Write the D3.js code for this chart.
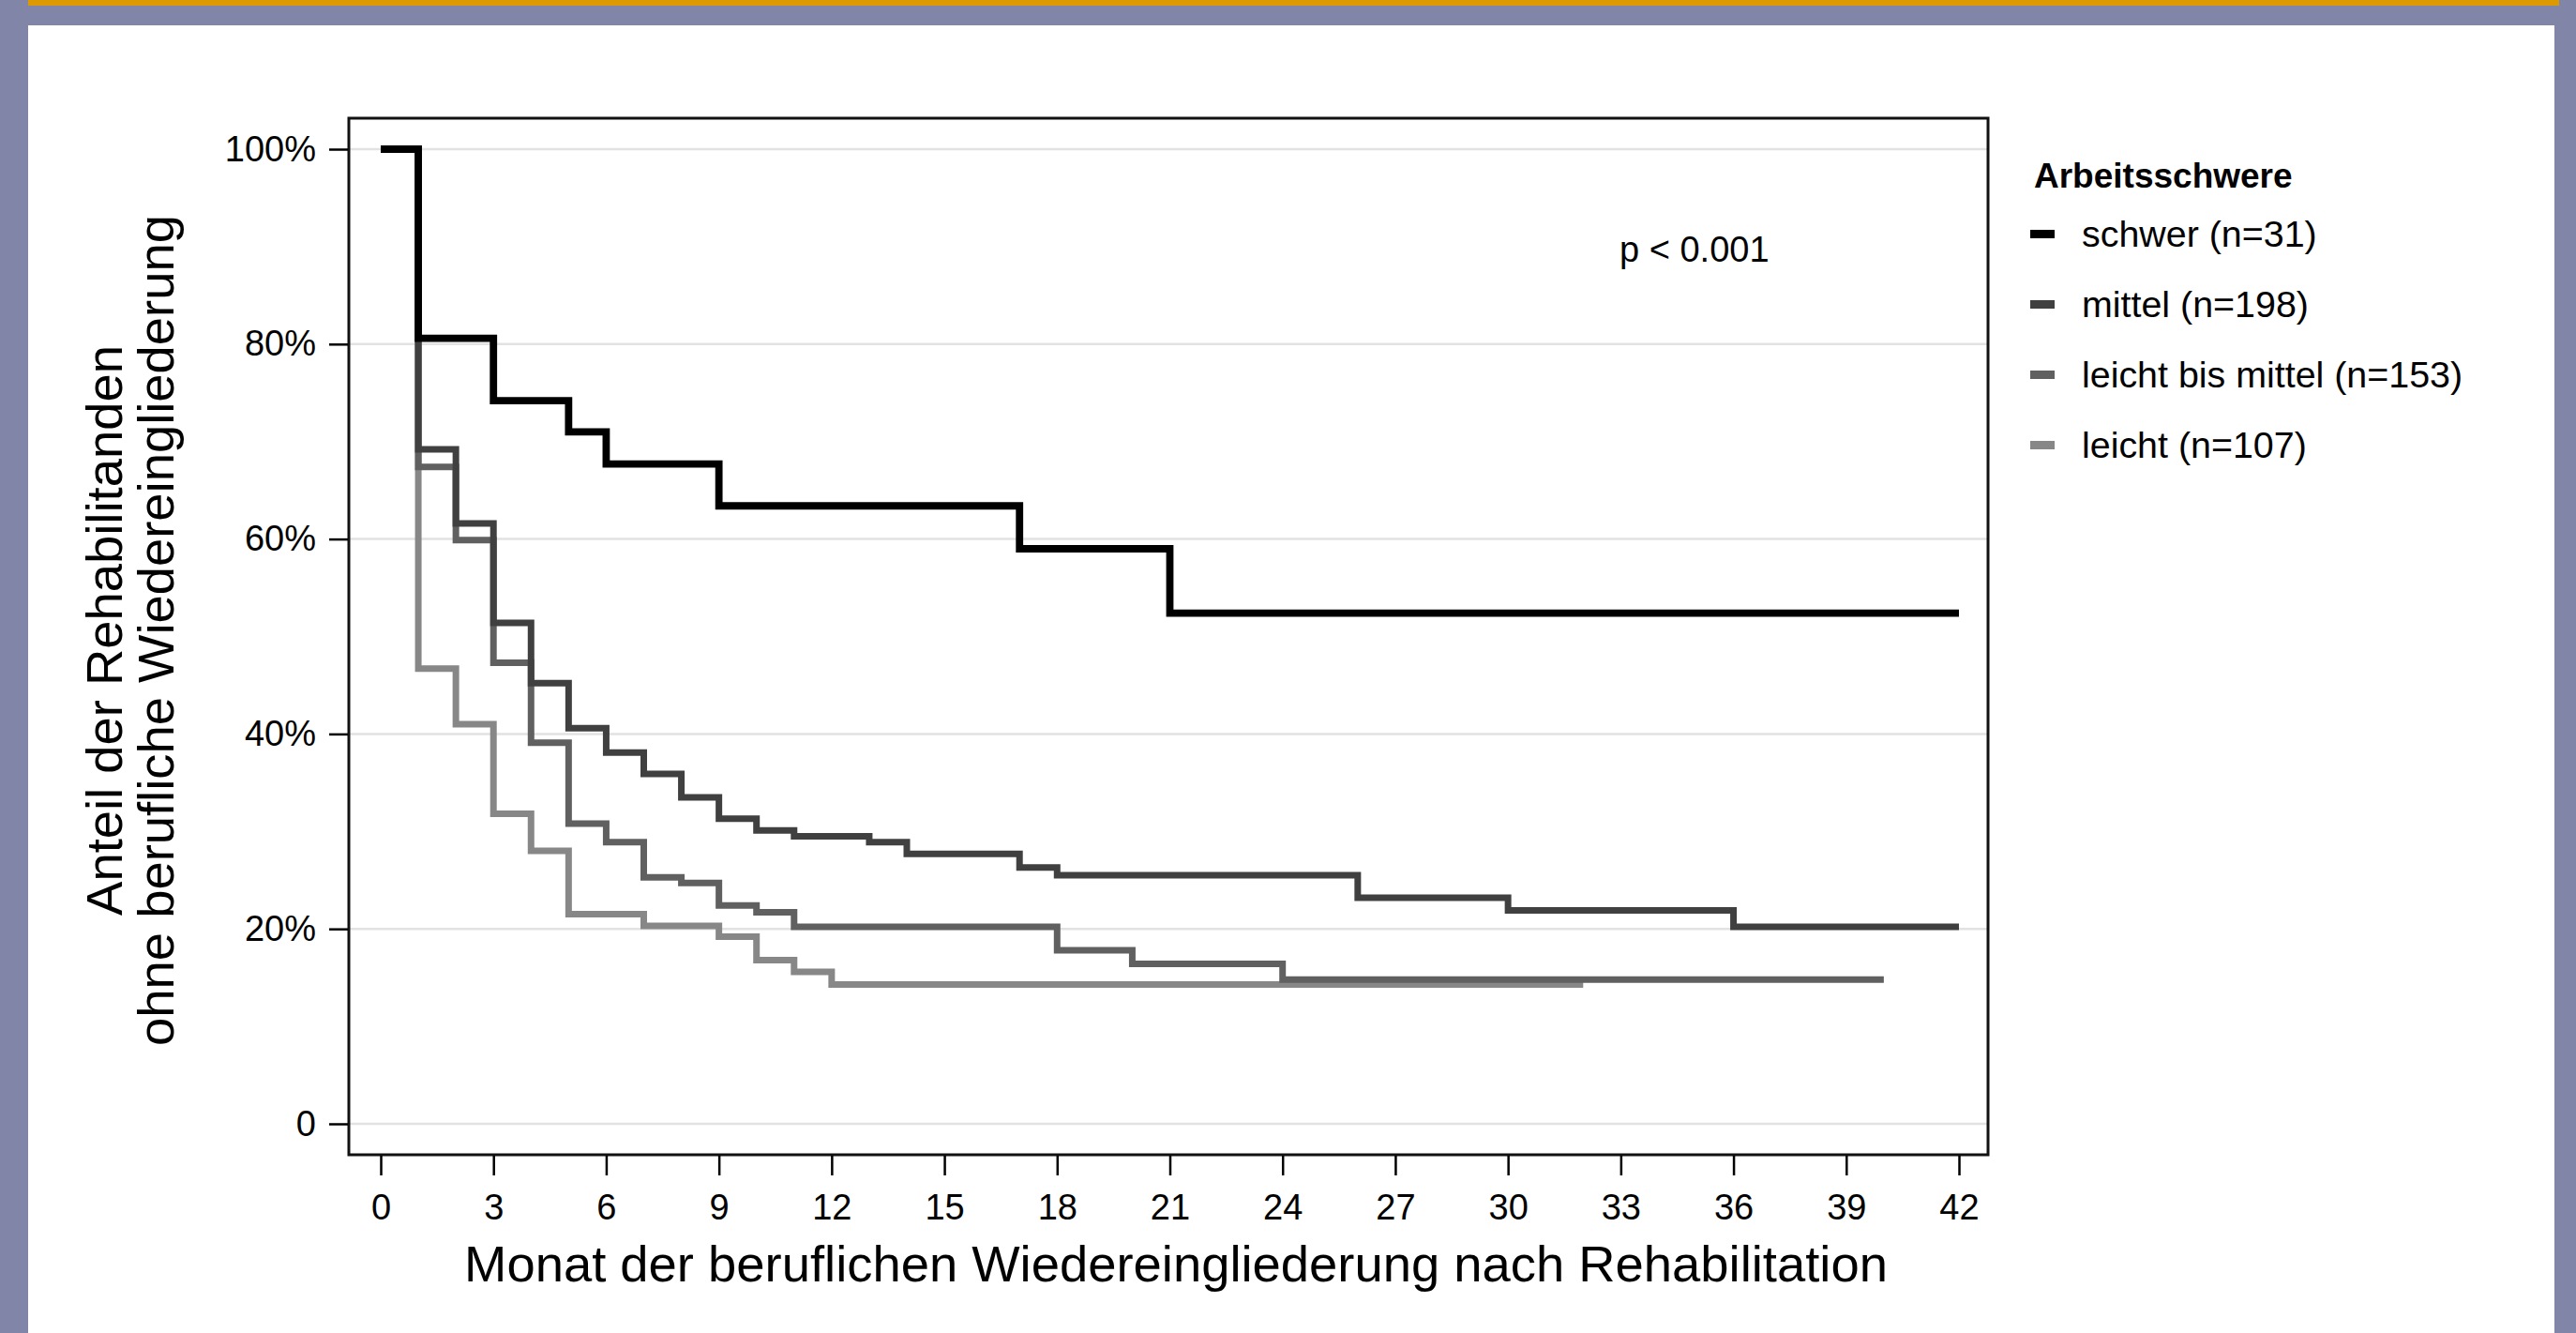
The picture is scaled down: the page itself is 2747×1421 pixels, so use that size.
<!DOCTYPE html>
<html>
<head>
<meta charset="utf-8">
<script src="https://cdn.jsdelivr.net/npm/d3@7"></script>
<style>
  html, body { margin: 0; padding: 0; background: #8186a8; }
  svg { display: block; }
  text { font-family: "Liberation Sans", Arial, Helvetica, sans-serif; fill: #000; }
</style>
</head>
<body>
<svg id="chart" width="2747" height="1421"></svg>
<script>
// ---- Data ----
const groupNames = ["schwer (n=31)", "mittel (n=198)", "leicht bis mittel (n=153)", "leicht (n=107)"];
const groupColors = ["#000000", "#404040", "#606060", "#878787"];

const schwerMonths = [0, 1, 3, 5, 6, 9, 17, 21, 42];
const schwerValues = [100, 80.6, 74.2, 71.0, 67.7, 63.4, 59.0, 52.4, 52.4];

const mittelMonths = [0, 1, 2, 3, 4, 5, 6, 7, 8, 9, 10, 11, 13, 14, 17, 18, 26, 30, 36, 42];
const mittelValues = [100, 69.2, 61.6, 51.4, 45.2, 40.6, 38.1, 35.9, 33.5, 31.3, 30.1, 29.5, 28.9, 27.7, 26.3, 25.5, 23.2, 21.9, 20.2, 20.2];

const leichtMittelMonths = [0, 1, 2, 3, 4, 5, 6, 7, 8, 9, 10, 11, 18, 20, 24, 40];
const leichtMittelValues = [100, 67.4, 59.9, 47.3, 39.1, 30.8, 28.9, 25.3, 24.7, 22.4, 21.7, 20.2, 17.8, 16.4, 14.8, 14.8];

const leichtMonths = [0, 1, 2, 3, 4, 5, 7, 9, 10, 11, 12, 32];
const leichtValues = [100, 46.7, 41.0, 31.8, 28.0, 21.5, 20.3, 19.2, 16.8, 15.6, 14.3, 14.3];

const xTicks = [0, 3, 6, 9, 12, 15, 18, 21, 24, 27, 30, 33, 36, 39, 42];
const yTicks = [0, 20, 40, 60, 80, 100];
const yTickLabels = ["0", "20%", "40%", "60%", "80%", "100%"];

const legendTitle = "Arbeitsschwere";
const pValueText = "p < 0.001";
const xTitle = "Monat der beruflichen Wiedereingliederung nach Rehabilitation";
const yTitleLines = ["Anteil der Rehabilitanden", "ohne berufliche Wiedereingliederung"];

// ---- Layout ----
const svg = d3.select("#chart");
const W = 2747, H = 1421;
const box = { left: 372, right: 2120, top: 126, bottom: 1231 };

// frame
svg.append("rect").attr("x", 0).attr("y", 0).attr("width", W).attr("height", H).attr("fill", "#8186a8");
svg.append("rect").attr("x", 30).attr("y", 0).attr("width", 2699).attr("height", 6).attr("fill", "#dd9900");
svg.append("rect").attr("x", 30).attr("y", 27).attr("width", 2694).attr("height", H - 27).attr("fill", "#ffffff");

const x = d3.scaleLinear().domain([0, 42]).range([406, 2089]);
const y = d3.scaleLinear().domain([0, 100]).range([1198, 159]);

// gridlines
svg.append("g").selectAll("line").data(yTicks).join("line")
  .attr("x1", box.left).attr("x2", box.right)
  .attr("y1", d => y(d)).attr("y2", d => y(d))
  .attr("stroke", "#e2e2e2").attr("stroke-width", 2.5);

// curves
const series = [
  { months: leichtMonths, values: leichtValues, color: groupColors[3], w: 7 },
  { months: leichtMittelMonths, values: leichtMittelValues, color: groupColors[2], w: 7 },
  { months: mittelMonths, values: mittelValues, color: groupColors[1], w: 7 },
  { months: schwerMonths, values: schwerValues, color: groupColors[0], w: 7.8 }
];
const line = d3.line().x(d => x(d[0])).y(d => y(d[1])).curve(d3.curveStepAfter);
svg.append("g").selectAll("path").data(series).join("path")
  .attr("d", s => line(s.months.map((m, i) => [m, s.values[i]])))
  .attr("fill", "none")
  .attr("stroke", s => s.color)
  .attr("stroke-width", s => s.w)
  .attr("stroke-linejoin", "miter")
  .attr("stroke-linecap", "butt");

// plot box
svg.append("rect")
  .attr("x", box.left).attr("y", box.top)
  .attr("width", box.right - box.left).attr("height", box.bottom - box.top)
  .attr("fill", "none").attr("stroke", "#111").attr("stroke-width", 3);

// y axis
const yAxis = svg.append("g").attr("transform", `translate(${box.left - 1},0)`)
  .call(d3.axisLeft(y).tickValues(yTicks).tickFormat((d, i) => yTickLabels[i]).tickSize(20).tickPadding(14));
yAxis.select(".domain").remove();
yAxis.selectAll(".tick line").attr("stroke", "#000").attr("stroke-width", 2.5);
yAxis.selectAll(".tick text").attr("font-size", 38).attr("fill", "#000")
  .style("font-family", '"Liberation Sans", Arial, sans-serif');

// x axis
const xAxis = svg.append("g").attr("transform", `translate(0,${box.bottom + 1})`)
  .call(d3.axisBottom(x).tickValues(xTicks).tickSize(21).tickPadding(20));
xAxis.select(".domain").remove();
xAxis.selectAll(".tick line").attr("stroke", "#000").attr("stroke-width", 2.5);
xAxis.selectAll(".tick text").attr("font-size", 38).attr("fill", "#000")
  .style("font-family", '"Liberation Sans", Arial, sans-serif');

// axis titles
svg.append("text").attr("x", 1254).attr("y", 1366).attr("text-anchor", "middle")
  .attr("font-size", 54.4).text(xTitle);
svg.append("g").attr("transform", "translate(130,672) rotate(-90)")
  .selectAll("text").data(yTitleLines).join("text")
  .attr("x", 0).attr("y", (d, i) => i * 55).attr("text-anchor", "middle")
  .attr("font-size", 54.4).text(d => d);

// p-value
svg.append("text").attr("x", 1727).attr("y", 279).attr("font-size", 38).text(pValueText);

// legend
const lg = svg.append("g");
lg.append("text").attr("x", 2169).attr("y", 200).attr("font-size", 37).attr("font-weight", "bold").text(legendTitle);
const items = lg.selectAll("g.item").data(groupNames).join("g").attr("class", "item")
  .attr("transform", (d, i) => `translate(0,${263 + i * 75})`);
items.append("rect").attr("x", 2165).attr("y", -18).attr("width", 26).attr("height", 9)
  .attr("fill", (d, i) => groupColors[i]);
items.append("text").attr("x", 2220).attr("y", 0).attr("font-size", 39.4).text(d => d);
</script>
</body>
</html>
